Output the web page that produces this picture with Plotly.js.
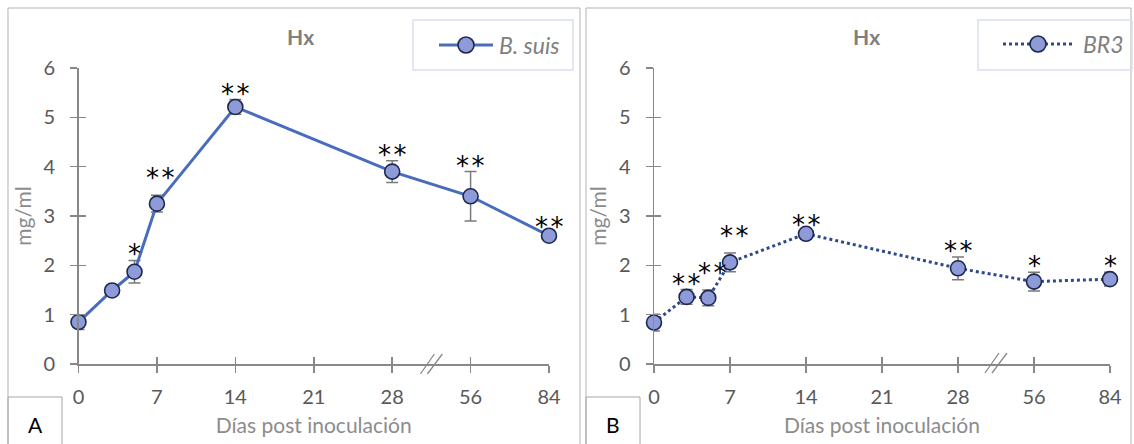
<!DOCTYPE html>
<html><head><meta charset="utf-8">
<script src="https://cdn.plot.ly/plotly-3.0.1.min.js"></script>
<style>html,body{margin:0;padding:0;background:#fff}#chart{width:1134px;height:444px}</style>
</head><body><div id="chart"></div>
<script>
// ---- data ----
const days = [0, 3, 5, 7, 14, 28, 56, 84];
const tickDays = [0, 7, 14, 21, 28, 56, 84];
const seriesAName = 'B. suis';
const seriesBName = 'BR3';
const hxA = [0.85, 1.49, 1.87, 3.25, 5.21, 3.90, 3.40, 2.60];
const errA = [0.15, 0.05, 0.23, 0.17, 0.15, 0.22, 0.50, 0.05];
const starsA = ['', '', '*', '**', '**', '**', '**', '**'];
const hxB = [0.84, 1.36, 1.34, 2.06, 2.64, 1.94, 1.67, 1.72];
const errB = [0.17, 0.15, 0.16, 0.19, 0.05, 0.23, 0.19, 0.14];
const starsB = ['', '**', '**', '**', '**', '**', '*', '*'];
const panelTitle = 'Hx';
const xTitle = 'Días post inoculación';
const yTitle = 'mg/ml';
const panelLabels = ['A', 'B'];
const breakAfterDay = 28;   // axis is broken between 28 and 56

// broken-axis transform: after day 28 the scale is compressed 4x
function brk(d) { return d <= breakAfterDay ? d : breakAfterDay + (d - breakAfterDay) / 4; }

const W = 1134, H = 444;
const px = x => x / W;
const py = y => 1 - y / H;

const FONT = 'Lato, "Open Sans", sans-serif';
const axisGray = '#888888';
const tickFont = {family: FONT, size: 20, color: '#595959'};
const titleFont = {family: FONT, size: 21, color: '#8c8c8c'};

const xPos = days.map(brk);
const tickPos = tickDays.map(brk);
const tickTxt = tickDays.map(String);
const xRange = [0, brk(84)];

const colorA = '#4a6cbd', colorB = '#2e4a8c';
const markerFill = '#8e9bd8', markerEdge = '#1c2850';

function xAxis(dom, anchor) {
  return {
    domain: dom, anchor: anchor, range: xRange, showgrid: false, zeroline: false,
    showline: true, linecolor: axisGray, linewidth: 1.5,
    ticks: 'outside', ticklen: 7, tickwidth: 1.5, tickcolor: axisGray,
    tickmode: 'array', tickvals: tickPos, ticktext: tickTxt,
    tickfont: tickFont, ticklabelstandoff: 7,
    title: {text: xTitle, font: titleFont, standoff: 12}
  };
}
function yAxis(dom, anchor) {
  return {
    domain: dom, anchor: anchor, range: [0, 6], dtick: 1, showgrid: false, zeroline: false,
    showline: true, linecolor: axisGray, linewidth: 1.5,
    ticks: 'outside', ticklen: 7, tickwidth: 1.5, tickcolor: axisGray,
    tickfont: tickFont, ticklabelstandoff: 11,
    title: {text: yTitle, font: titleFont, standoff: 6}
  };
}
// overlay axes that draw the inward half of the crossing tick marks
function xInner(dom, anchor, over) {
  return {domain: dom, anchor: anchor, overlaying: over, range: xRange, showgrid: false, zeroline: false,
    showline: false, ticks: 'inside', ticklen: 7, tickwidth: 1.5, tickcolor: axisGray,
    tickmode: 'array', tickvals: tickPos, showticklabels: false};
}
function yInner(dom, anchor, over) {
  return {domain: dom, anchor: anchor, overlaying: over, range: [0, 6], dtick: 1, showgrid: false, zeroline: false,
    showline: false, ticks: 'inside', ticklen: 7, tickwidth: 1.5, tickcolor: axisGray, showticklabels: false};
}

const domA = [px(78.5), px(549)];
const domB = [px(654), px(1110)];
const domY = [py(364), py(68)];

const markerStyle = {size: 15, color: markerFill, line: {color: markerEdge, width: 1.6}};
const errStyle = (arr) => ({type: 'data', array: arr, visible: true, color: '#7a7a7a', thickness: 1.5, width: 6});

const traces = [
  // carriers for the inward tick overlay axes (drawn first, underneath)
  {type: 'scatter', mode: 'markers', x: [-100], y: [-100], xaxis: 'x3', yaxis: 'y3', showlegend: false,
   hoverinfo: 'skip', marker: {opacity: 0}},
  {type: 'scatter', mode: 'markers', x: [-100], y: [-100], xaxis: 'x4', yaxis: 'y4', showlegend: false,
   hoverinfo: 'skip', marker: {opacity: 0}},
  {type: 'scatter', mode: 'lines+markers', name: seriesAName, x: xPos, y: hxA,
   xaxis: 'x', yaxis: 'y', line: {color: colorA, width: 3}, marker: markerStyle,
   error_y: errStyle(errA), cliponaxis: false, showlegend: false},
  {type: 'scatter', mode: 'lines+markers', name: seriesBName, x: xPos, y: hxB,
   xaxis: 'x2', yaxis: 'y2', line: {color: colorB, width: 3, dash: 'dot'}, marker: markerStyle,
   error_y: errStyle(errB), cliponaxis: false, showlegend: false}
];

const annotations = [];
function addStars(vals, errs, stars, xr, yr, pxPerUnit) {
  let prevX = null;
  stars.forEach((s, i) => {
    if (!s) { prevX = null; return; }
    // lift a label that would collide with its left neighbour's label
    const crowded = prevX !== null && (xPos[i] - prevX) * pxPerUnit < 30;
    annotations.push({xref: xr, yref: yr, x: xPos[i], y: vals[i] + errs[i], text: s.split('').join('\u200A'),
      showarrow: false, xanchor: 'center', yanchor: 'bottom', yshift: crowded ? 0 : -11,
      xshift: crowded ? 4 : 0,
      font: {family: '"DejaVu Sans", sans-serif', size: 26, color: '#000000'}});
    prevX = xPos[i];
  });
}
addStars(hxA, errA, starsA, 'x', 'y', (549 - 78.5) / brk(84));
addStars(hxB, errB, starsB, 'x2', 'y2', (1110 - 654) / brk(84));

// panel titles and letters
[[300, 36], [866, 36]].forEach(p => annotations.push({xref: 'paper', yref: 'paper', x: px(p[0]), y: py(p[1]),
  text: '<b>' + panelTitle + '</b>', showarrow: false, xanchor: 'center', yanchor: 'middle',
  font: {family: FONT, size: 21, color: '#808080'}}));
[[35, 424], [613, 424]].forEach((p, i) => annotations.push({xref: 'paper', yref: 'paper', x: px(p[0]), y: py(p[1]),
  text: panelLabels[i], showarrow: false, xanchor: 'center', yanchor: 'middle',
  font: {family: FONT, size: 21, color: '#000000'}}));

const shapes = [
  // panel frames
  {type: 'rect', xref: 'paper', yref: 'paper', x0: px(8), x1: px(580), y0: py(446), y1: py(8), line: {color: '#b3b3b3', width: 1}},
  {type: 'rect', xref: 'paper', yref: 'paper', x0: px(586), x1: px(1131), y0: py(446), y1: py(8), line: {color: '#b3b3b3', width: 1}},
  // letter boxes
  {type: 'rect', xref: 'paper', yref: 'paper', x0: px(8), x1: px(62), y0: py(446), y1: py(397), line: {color: '#a6a6a6', width: 1}},
  {type: 'rect', xref: 'paper', yref: 'paper', x0: px(586), x1: px(640), y0: py(446), y1: py(397), line: {color: '#a6a6a6', width: 1}},
  // legend boxes
  {type: 'rect', xref: 'paper', yref: 'paper', x0: px(413), x1: px(573), y0: py(70), y1: py(20), line: {color: '#d9dff0', width: 1.5}},
  {type: 'rect', xref: 'paper', yref: 'paper', x0: px(978), x1: px(1132), y0: py(70), y1: py(20), line: {color: '#d9dff0', width: 1.5}}
];

// legend samples (line + marker + italic label)
function legendEntry(x0, x1, xm, xt, yc, color, dash, label) {
  shapes.push({type: 'line', xref: 'paper', yref: 'paper', x0: px(x0), x1: px(x1), y0: py(yc), y1: py(yc),
    line: {color: color, width: 3, dash: dash}});
  shapes.push({type: 'circle', xref: 'paper', yref: 'paper', xsizemode: 'pixel', ysizemode: 'pixel',
    xanchor: px(xm), yanchor: py(yc), x0: -8, x1: 8, y0: -8, y1: 8,
    fillcolor: markerFill, line: {color: markerEdge, width: 1.6}});
  annotations.push({xref: 'paper', yref: 'paper', x: px(xt), y: py(yc), text: '<i>' + label + '</i>',
    showarrow: false, xanchor: 'left', yanchor: 'middle',
    font: {family: FONT, size: 23, color: '#7f7f7f'}});
}
legendEntry(439, 493, 466, 497, 45, colorA, 'solid', seriesAName);
legendEntry(1003, 1073, 1038, 1081, 44, colorB, 'dot', seriesBName);

// axis-break marks
const breakMid = (brk(28) + brk(56)) / 2;
[['x', 364], ['x2', 363]].forEach(r => {
  [[-11, 3], [-4, 11]].forEach(o => shapes.push({type: 'line', xref: r[0], yref: 'paper',
    xsizemode: 'pixel', ysizemode: 'pixel', xanchor: breakMid, yanchor: py(r[1]),
    x0: o[0], x1: o[1], y0: -10, y1: 10, line: {color: axisGray, width: 1.3}}));
});

const layout = {
  width: W, height: H, margin: {l: 0, r: 0, t: 0, b: 0},
  paper_bgcolor: '#ffffff', plot_bgcolor: 'rgba(0,0,0,0)',
  showlegend: false,
  xaxis: xAxis(domA, 'y'), yaxis: yAxis(domY, 'x'),
  xaxis2: xAxis(domB, 'y2'), yaxis2: yAxis(domY, 'x2'),
  xaxis3: xInner(domA, 'y3', 'x'), yaxis3: yInner(domY, 'x3', 'y'),
  xaxis4: xInner(domB, 'y4', 'x2'), yaxis4: yInner(domY, 'x4', 'y2'),
  annotations: annotations, shapes: shapes
};

Plotly.newPlot('chart', traces, layout, {displayModeBar: false, staticPlot: true});
</script></body></html>
